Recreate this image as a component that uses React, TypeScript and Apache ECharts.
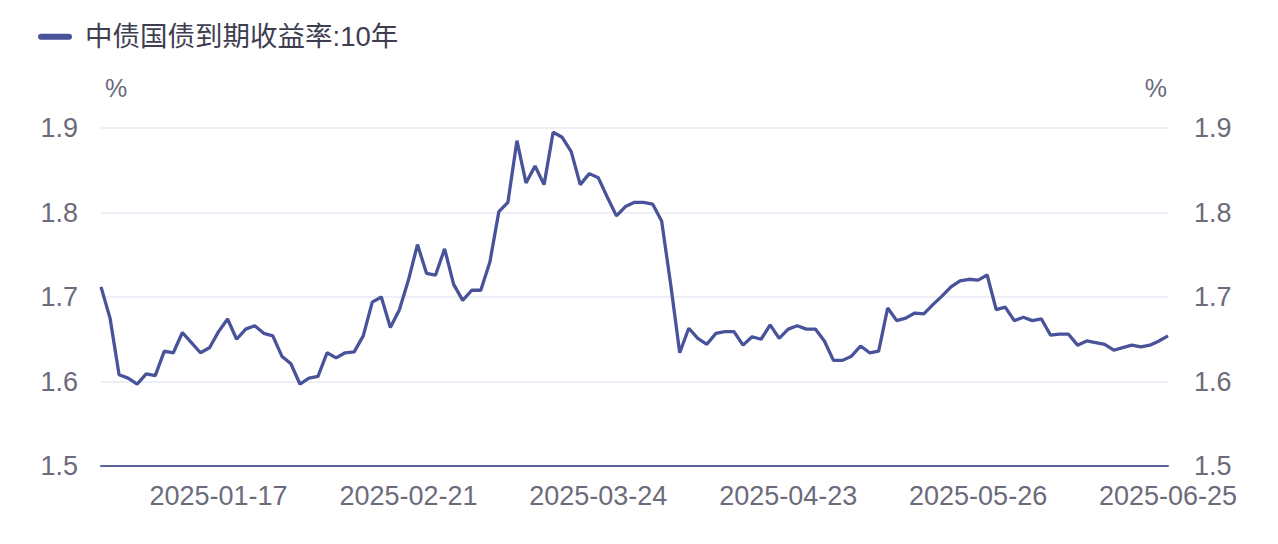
import React, { useEffect, useRef } from "react";
import * as echarts from "echarts";

const seriesName = "中债国债到期收益率:10年";

const dates: string[] = [
  "2024-12-30", "2024-12-31",
  "2025-01-02", "2025-01-03", "2025-01-06", "2025-01-07", "2025-01-08", "2025-01-09", "2025-01-10",
  "2025-01-13", "2025-01-14", "2025-01-15", "2025-01-16", "2025-01-17", "2025-01-20", "2025-01-21",
  "2025-01-22", "2025-01-23", "2025-01-24", "2025-01-26", "2025-01-27",
  "2025-02-05", "2025-02-06", "2025-02-07", "2025-02-08", "2025-02-10", "2025-02-11", "2025-02-12",
  "2025-02-13", "2025-02-14", "2025-02-17", "2025-02-18", "2025-02-19", "2025-02-20", "2025-02-21",
  "2025-02-24", "2025-02-25", "2025-02-26", "2025-02-27", "2025-02-28",
  "2025-03-03", "2025-03-04", "2025-03-05", "2025-03-06", "2025-03-07", "2025-03-10", "2025-03-11",
  "2025-03-12", "2025-03-13", "2025-03-14", "2025-03-17", "2025-03-18", "2025-03-19", "2025-03-20",
  "2025-03-21", "2025-03-24", "2025-03-25", "2025-03-26", "2025-03-27", "2025-03-28", "2025-03-31",
  "2025-04-01", "2025-04-02", "2025-04-03", "2025-04-07", "2025-04-08", "2025-04-09", "2025-04-10",
  "2025-04-11", "2025-04-14", "2025-04-15", "2025-04-16", "2025-04-17", "2025-04-18", "2025-04-21",
  "2025-04-22", "2025-04-23", "2025-04-24", "2025-04-25", "2025-04-27", "2025-04-28", "2025-04-29",
  "2025-04-30",
  "2025-05-06", "2025-05-07", "2025-05-08", "2025-05-09", "2025-05-12", "2025-05-13", "2025-05-14",
  "2025-05-15", "2025-05-16", "2025-05-19", "2025-05-20", "2025-05-21", "2025-05-22", "2025-05-23",
  "2025-05-26", "2025-05-27", "2025-05-28", "2025-05-29", "2025-05-30",
  "2025-06-03", "2025-06-04", "2025-06-05", "2025-06-06", "2025-06-09", "2025-06-10", "2025-06-11",
  "2025-06-12", "2025-06-13", "2025-06-16", "2025-06-17", "2025-06-18", "2025-06-19", "2025-06-20",
  "2025-06-23", "2025-06-24", "2025-06-25",
];

const yields: number[] = [
  1.712, 1.675,
  1.608, 1.604, 1.597, 1.609, 1.607, 1.636, 1.634,
  1.658, 1.646, 1.634, 1.640, 1.659, 1.674, 1.650,
  1.662, 1.666, 1.657, 1.654, 1.630,
  1.621, 1.597, 1.604, 1.606, 1.634, 1.628, 1.634,
  1.635, 1.654, 1.694, 1.700, 1.664, 1.685, 1.720,
  1.762, 1.728, 1.726, 1.757, 1.715,
  1.696, 1.708, 1.708, 1.741, 1.801, 1.812, 1.885,
  1.835, 1.855, 1.833, 1.895, 1.889, 1.872, 1.833,
  1.846, 1.841, 1.818, 1.796, 1.807, 1.812, 1.812,
  1.810, 1.790, 1.715, 1.634, 1.663, 1.651, 1.644,
  1.657, 1.659, 1.659, 1.643, 1.653, 1.650, 1.667,
  1.651, 1.662, 1.666, 1.662, 1.662, 1.648, 1.625,
  1.625,
  1.630, 1.642, 1.634, 1.636, 1.687, 1.672, 1.675,
  1.681, 1.680, 1.691, 1.701, 1.712, 1.719, 1.721,
  1.720, 1.726, 1.685, 1.688, 1.672,
  1.676, 1.672, 1.674, 1.655, 1.656, 1.656, 1.643,
  1.648, 1.646, 1.644, 1.637, 1.640, 1.643, 1.641,
  1.643, 1.648, 1.654,
];

const yMin = 1.5;
const yMax = 1.9;
const yStep = 0.1;
const labelEvery = 21;
const unitName = "%";

const FONT = "'Liberation Sans', Arial, 'Noto Sans CJK SC', sans-serif";
const LINE_COLOR = "#48539a";
const LABEL_COLOR = "#6b6b7b";
const AXIS_FONT = 27;

export default function App() {
  const ref = useRef<HTMLDivElement>(null);
  useEffect(() => {
    if (!ref.current) return;
    const chart = echarts.init(ref.current, undefined, { renderer: "svg" });
    const last = dates.length - 1;
    const yAxisBase = (position: "left" | "right") => ({
      type: "value" as const,
      position,
      min: yMin,
      max: yMax,
      interval: yStep,
      name: unitName,
      nameLocation: "end" as const,
      nameGap: 28,
      nameTextStyle: {
        color: LABEL_COLOR,
        fontSize: 25,
        fontFamily: FONT,
        align: position === "left" ? "left" : "right",
        padding: position === "left" ? [0, 0, 0, 4] : [0, 1, 0, 0],
      },
      axisLine: { show: false },
      axisTick: { show: false },
      axisLabel: {
        color: LABEL_COLOR,
        fontSize: AXIS_FONT,
        fontFamily: FONT,
        margin: position === "left" ? 23 : 26,
        formatter: (v: number) => v.toFixed(1),
      },
      splitLine: {
        show: position === "left",
        lineStyle: { color: "#e8e8f5", width: 1.5 },
      },
    });
    chart.setOption({
      animation: false,
      backgroundColor: "#ffffff",
      legend: {
        show: true,
        left: 38,
        top: 23,
        padding: 0,
        itemWidth: 34,
        itemHeight: 6,
        icon: "path://M3,0 L31,0 A3,3 0 0 1 31,6 L3,6 A3,3 0 0 1 3,0 Z",
        textStyle: {
          color: "#3e3e50",
          fontSize: 27.5,
          fontFamily: FONT,
          padding: [0, 0, 0, 8],
        },
        data: [{ name: seriesName, itemStyle: { color: LINE_COLOR } }],
      },
      grid: { left: 101, right: 110, top: 128, bottom: 78, containLabel: false },
      xAxis: {
        type: "category",
        data: dates,
        boundaryGap: false,
        axisLine: { show: true, lineStyle: { color: "#5a6398", width: 2 } },
        axisTick: { show: false },
        splitLine: { show: false },
        axisLabel: {
          color: LABEL_COLOR,
          fontSize: AXIS_FONT,
          fontFamily: FONT,
          margin: 16,
          interval: (index: number) => (last - index) % labelEvery === 0,
        },
      },
      yAxis: [yAxisBase("left"), yAxisBase("right")],
      series: [
        {
          name: seriesName,
          type: "line",
          data: yields,
          showSymbol: false,
          symbol: "none",
          lineStyle: { color: LINE_COLOR, width: 3.3 },
          itemStyle: { color: LINE_COLOR },
        },
      ],
    });
    return () => chart.dispose();
  }, []);
  return (
    <div
      ref={ref}
      style={{ position: "fixed", left: 0, top: 0, width: 1278, height: 544 }}
    />
  );
}
